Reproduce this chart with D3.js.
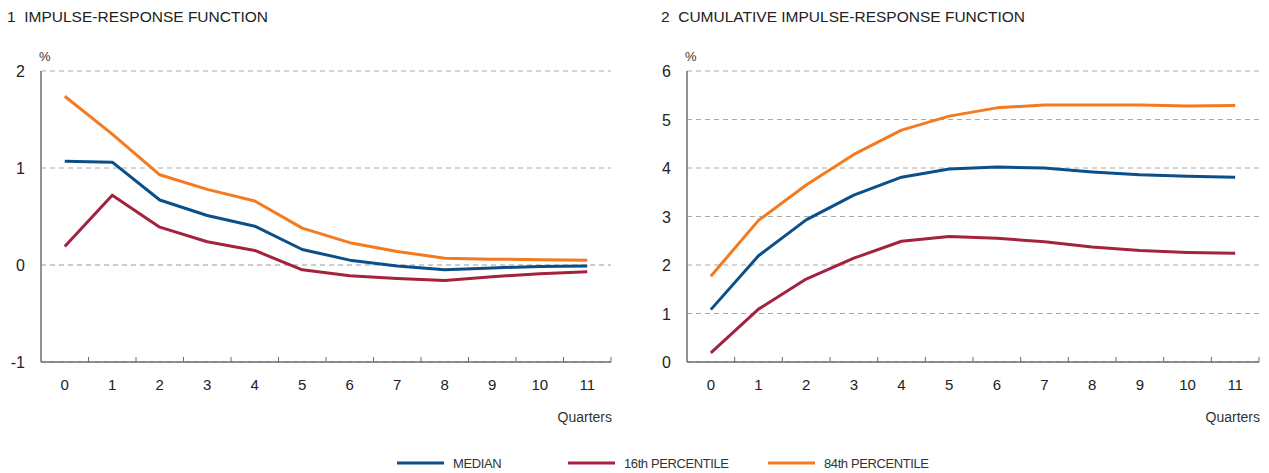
<!DOCTYPE html>
<html>
<head>
<meta charset="utf-8">
<script src="https://cdn.jsdelivr.net/npm/d3@7"></script>
<style>
  body { margin: 0; background: #fff; }
  svg { display: block; font-family: "Liberation Sans", Arial, sans-serif; }
</style>
</head>
<body>
<svg id="chart" width="1269" height="473"></svg>
<script>
var quarters = [0, 1, 2, 3, 4, 5, 6, 7, 8, 9, 10, 11];

// panel 1: impulse-response
var irf_median = [1.07, 1.06, 0.67, 0.51, 0.40, 0.16, 0.05, -0.01, -0.05, -0.03, -0.015, -0.01];
var irf_p16    = [0.19, 0.72, 0.39, 0.24, 0.15, -0.05, -0.11, -0.14, -0.16, -0.12, -0.09, -0.07];
var irf_p84    = [1.74, 1.35, 0.93, 0.78, 0.66, 0.38, 0.23, 0.14, 0.07, 0.06, 0.055, 0.05];
var irf_ticks  = [-1, 0, 1, 2];

// panel 2: cumulative impulse-response
var cirf_median = [1.08, 2.19, 2.93, 3.44, 3.81, 3.98, 4.02, 4.00, 3.92, 3.86, 3.83, 3.81];
var cirf_p16    = [0.19, 1.09, 1.71, 2.14, 2.49, 2.59, 2.55, 2.48, 2.37, 2.30, 2.26, 2.24];
var cirf_p84    = [1.77, 2.92, 3.65, 4.28, 4.78, 5.07, 5.24, 5.30, 5.30, 5.30, 5.28, 5.29];
var cirf_ticks  = [0, 1, 2, 3, 4, 5, 6];

var series_names  = ["MEDIAN", "16th PERCENTILE", "84th PERCENTILE"];
var series_colors = ["#0b4f8a", "#a3233f", "#f47a20"];

var svg = d3.select("#chart")

function draw_panel(opts) {
	var g = svg.append("g")

	g.append("text")
	  .attr("x", opts.title_x)
	  .attr("y", 22)
	  .style("font-size", "15.5px")
	  .style("fill", "#222")
	  .style("white-space", "pre")
	  .text(opts.title)

	var x = d3.scaleBand().domain(quarters).range([opts.left, opts.right]).paddingInner(0).paddingOuter(0)
	var y = d3.scaleLinear().domain(opts.domain).range([opts.bottom, opts.top])

	// grid lines
	g.selectAll(".grid")
	  .data(opts.ticks)
	  .enter()
	  .append("line")
	  .attr("x1", opts.left)
	  .attr("x2", opts.right)
	  .attr("y1", d => y(d))
	  .attr("y2", d => y(d))
	  .style("stroke", d => d == 0 && opts.domain[0] < 0 ? "#999" : "#aaa")
	  .style("stroke-width", 1)
	  .style("stroke-dasharray", "5,4")

	// y labels
	g.selectAll(".ylab")
	  .data(opts.ticks)
	  .enter()
	  .append("text")
	  .attr("x", opts.left - 16)
	  .attr("y", d => y(d) + 6)
	  .attr("text-anchor", "end")
	  .style("font-size", "16px")
	  .style("fill", "#222")
	  .text(d => d)

	g.append("text")
	  .attr("x", opts.left - 2)
	  .attr("y", 61)
	  .style("font-size", "13px")
	  .style("fill", "#333")
	  .text("%")

	// axes lines
	g.append("line")
	  .attr("x1", opts.left).attr("x2", opts.left)
	  .attr("y1", opts.top).attr("y2", opts.bottom)
	  .style("stroke", "#6d6e71").style("stroke-width", 1.5)
	g.append("line")
	  .attr("x1", opts.left).attr("x2", opts.right)
	  .attr("y1", opts.bottom).attr("y2", opts.bottom)
	  .style("stroke", "#6d6e71").style("stroke-width", 1.5)

	// tick marks between quarters
	g.selectAll(".xtick")
	  .data(quarters)
	  .enter()
	  .append("line")
	  .attr("x1", d => x(d) + x.bandwidth())
	  .attr("x2", d => x(d) + x.bandwidth())
	  .attr("y1", opts.bottom)
	  .attr("y2", opts.bottom - 5)
	  .style("stroke", "#6d6e71").style("stroke-width", 1)

	g.selectAll(".xlab")
	  .data(quarters)
	  .enter()
	  .append("text")
	  .attr("x", d => x(d) + x.bandwidth() / 2)
	  .attr("y", opts.bottom + 28)
	  .attr("text-anchor", "middle")
	  .style("font-size", "15px")
	  .style("fill", "#222")
	  .text(d => d)

	g.append("text")
	  .attr("x", opts.right + 1)
	  .attr("y", 422)
	  .attr("text-anchor", "end")
	  .style("font-size", "14px")
	  .style("fill", "#333")
	  .text("Quarters")

	var line = d3.line()
	  .x((d, i) => x(quarters[i]) + x.bandwidth() / 2)
	  .y(d => y(d))

	g.selectAll(".series")
	  .data(opts.series)
	  .enter()
	  .append("path")
	  .attr("d", d => line(d))
	  .style("fill", "none")
	  .style("stroke", (d, i) => series_colors[i])
	  .style("stroke-width", 3)
	  .style("stroke-linejoin", "round")
}

draw_panel({
	title: "1  IMPULSE-RESPONSE FUNCTION", title_x: 7,
	left: 41, right: 611, top: 71, bottom: 362,
	domain: [-1, 2], ticks: irf_ticks,
	series: [irf_median, irf_p16, irf_p84]
})

draw_panel({
	title: "2  CUMULATIVE IMPULSE-RESPONSE FUNCTION", title_x: 661,
	left: 687, right: 1259, top: 71, bottom: 362,
	domain: [0, 6], ticks: cirf_ticks,
	series: [cirf_median, cirf_p16, cirf_p84]
})

// legend
var legend_x = [397, 568, 768]
var legend = svg.selectAll(".legend")
  .data(series_names)
  .enter()
  .append("g")
  .attr("transform", (d, i) => "translate(" + legend_x[i] + ",463)")

legend.append("line")
  .attr("x1", 0).attr("x2", 47)
  .style("stroke", (d, i) => series_colors[i])
  .style("stroke-width", 3)

legend.append("text")
  .attr("x", 56)
  .attr("y", 5)
  .style("font-size", "13px")
  .style("fill", "#333")
  .style("letter-spacing", "-0.4px")
  .text(d => d)
</script>
</body>
</html>
